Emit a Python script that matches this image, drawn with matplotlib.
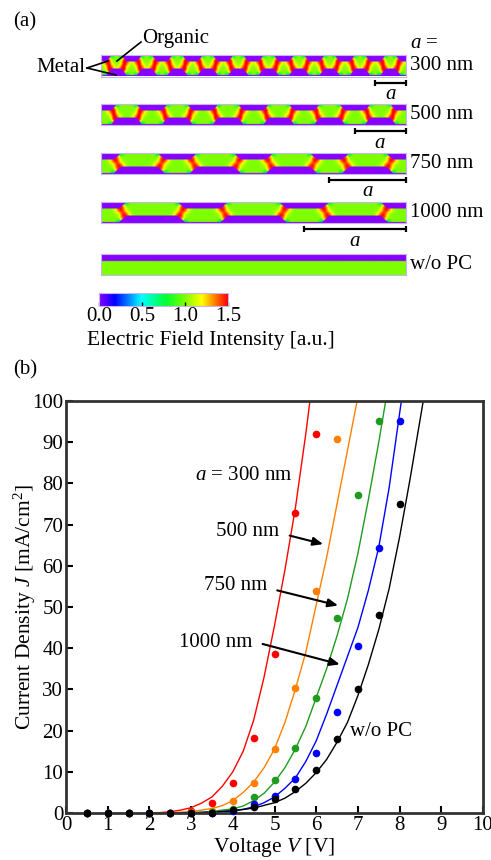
import numpy as np
import matplotlib
matplotlib.use("Agg")
import matplotlib.pyplot as plt
from matplotlib.colors import LinearSegmentedColormap

plt.rcParams['font.family'] = ['Liberation Serif', 'DejaVu Serif']
plt.rcParams['mathtext.fontset'] = 'custom'
plt.rcParams['mathtext.rm'] = 'Liberation Serif'
plt.rcParams['mathtext.it'] = 'Liberation Serif:italic'

W, H = 491, 860   # figure size in pixels
FS = 15

# ─── Datos panel (a) ──────────────────────────────────────────────────────────
periods = [300, 500, 750, 1000]
period_labels = ["300 nm", "500 nm", "750 nm", "1000 nm", "w/o PC"]
cbar_ticks = [0.0, 0.5, 1.0, 1.5]

# ─── Datos panel (b): puntos medidos ──────────────────────────────────────────
v_red = [0.5, 1.0, 1.5, 2.0, 2.5, 3.0, 3.5, 4.0, 4.5, 5.0, 5.5, 6.0]
j_red = [0, 0, 0, 0, 0, 0.5, 2.5, 7.2, 18.3, 38.5, 72.9, 92.0]

v_orange = [0.5, 1.0, 1.5, 2.0, 2.5, 3.0, 3.5, 4.0, 4.5, 5.0, 5.5, 6.0, 6.5]
j_orange = [0, 0, 0, 0, 0, 0.2, 0.5, 3.0, 7.2, 15.5, 30.3, 54.0, 90.8]

v_green = [0.5, 1.0, 1.5, 2.0, 2.5, 3.0, 3.5, 4.0, 4.5, 5.0, 5.5, 6.0, 6.5, 7.0, 7.5]
j_green = [0, 0, 0, 0, 0, 0, 0.3, 1.0, 3.8, 8.0, 15.7, 27.8, 47.3, 77.2, 95.2]

v_blue = [0.5, 1.0, 1.5, 2.0, 2.5, 3.0, 3.5, 4.0, 4.5, 5.0, 5.5, 6.0, 6.5, 7.0, 7.5, 8.0]
j_blue = [0, 0, 0, 0, 0, 0, 0.1, 0.5, 2.2, 4.1, 8.2, 14.6, 24.6, 40.6, 64.2, 95.2]

v_black = [0.5, 1.0, 1.5, 2.0, 2.5, 3.0, 3.5, 4.0, 4.5, 5.0, 5.5, 6.0, 6.5, 7.0, 7.5, 8.0]
j_black = [0, 0, 0, 0, 0, 0, 0.1, 0.8, 1.5, 3.5, 5.8, 10.4, 17.9, 30.0, 48.0, 75.0]

# ─── Datos panel (b): curvas de ajuste ───────────────────────────────────────
cv_red = [2.0, 2.25, 2.5, 2.75, 3.0, 3.25, 3.5, 3.75, 4.0, 4.25, 4.5, 4.75, 5.0, 5.25, 5.5, 5.75, 5.875]
cj_red = [0, 0.1, 0.3, 0.7, 1.3, 2.4, 3.9, 6.5, 10.0, 15.0, 22.5, 33.0, 45.5, 59.0, 74.0, 92.0, 102.0]

cv_orange = [2.25, 2.5, 2.75, 3.0, 3.25, 3.5, 3.75, 4.0, 4.25, 4.5, 4.75, 5.0, 5.25, 5.5, 5.75, 6.0, 6.25, 6.5, 6.75, 7.0]
cj_orange = [0, 0.1, 0.2, 0.4, 0.7, 1.1, 1.8, 3.0, 5.0, 7.5, 11.0, 15.5, 22.0, 30.0, 39.0, 50.5, 62.0, 75.0, 88.0, 101.0]

cv_green = [2.5, 2.75, 3.0, 3.25, 3.5, 3.75, 4.0, 4.25, 4.5, 4.75, 5.0, 5.25, 5.5, 5.75, 6.0, 6.25, 6.5, 6.75, 7.0, 7.25, 7.5, 7.7]
cj_green = [0, 0.05, 0.1, 0.2, 0.4, 0.7, 1.0, 1.7, 3.0, 4.8, 7.5, 11.0, 15.5, 21.0, 28.0, 35.0, 43.0, 52.0, 63.0, 76.0, 90.0, 102.0]

cv_blue = [2.75, 3.0, 3.5, 4.0, 4.25, 4.5, 4.75, 5.0, 5.25, 5.5, 5.75, 6.0, 6.25, 6.5, 6.75, 7.0, 7.25, 7.5, 7.75, 8.0, 8.1]
cj_blue = [0, 0.05, 0.2, 0.6, 0.9, 1.5, 2.5, 3.9, 6.0, 8.5, 12.5, 17.5, 24.0, 31.0, 38.0, 45.0, 54.0, 64.5, 79.0, 97.0, 104.0]

cv_black = [3.0, 3.5, 4.0, 4.5, 5.0, 5.25, 5.5, 5.75, 6.0, 6.25, 6.5, 6.75, 7.0, 7.25, 7.5, 7.75, 8.0, 8.25, 8.5, 8.6]
cj_black = [0, 0.2, 0.5, 1.2, 2.5, 3.6, 5.2, 7.2, 9.8, 13.0, 17.2, 22.0, 28.5, 36.0, 44.5, 54.5, 67.0, 81.0, 96.0, 102.0]

series = [
    (v_red, j_red, cv_red, cj_red, "#ff0000"),
    (v_orange, j_orange, cv_orange, cj_orange, "#ff8000"),
    (v_green, j_green, cv_green, cj_green, "#1f9c1f"),
    (v_blue, j_blue, cv_blue, cj_blue, "#0000ff"),
    (v_black, j_black, cv_black, cj_black, "#000000"),
]

field_cmap = LinearSegmentedColormap.from_list("field", [
    (0.00, "#8800ff"), (0.12, "#0000ff"), (0.33, "#00ffff"),
    (0.52, "#00ff30"), (0.67, "#80ff00"), (0.80, "#ffff00"),
    (0.90, "#ff8000"), (1.00, "#ff0000")])


def fig_box(x0, y0, x1, y1):
    """Convierte una caja en píxeles (origen arriba-izq.) a fracción de figura."""
    return [x0 / W, 1 - y1 / H, (x1 - x0) / W, (y1 - y0) / H]


def field_map(period, lx=3000.0, ly=215.0):
    """Mapa esquemático de intensidad de campo en la capa orgánica corrugada."""
    x = np.linspace(0, lx, 601)
    y = np.linspace(0, ly, 44)
    X, Y = np.meshgrid(x, y)
    if period is None:
        return np.where(Y <= 0.63 * ly, 1.0, 0.0)
    dc = np.abs(np.mod(X, period) - period / 2)
    small = period < 600
    hu = (0.5 if small else 0.58) * period / 2
    w = 50.0 if small else 70.0
    u = np.clip((hu + w / 2 - dc) / w, 0, 1)
    yb = (0.03 + 0.30 * u) * ly
    yt = (0.66 + 0.28 * u) * ly
    organic = (Y >= yb) & (Y <= yt)

    def g(d0, y0, s):
        return np.exp(-((dc - d0) ** 2 + (Y - y0) ** 2) / (2 * s ** 2))

    F = np.ones_like(X)
    F += 0.36 * g(hu + w / 2, 0.66 * ly, 32) + 0.36 * g(hu - w / 2, 0.33 * ly, 32)
    F += 0.22 * np.exp(-((dc - hu) / (w / 2)) ** 2)
    F -= 0.45 * g(hu - w / 2, 0.94 * ly, 18) + 0.45 * g(hu + w / 2, 0.03 * ly, 18)
    F = np.clip(F, 0.4, 1.5)
    F[~organic] = 0.0
    return F


fig = plt.figure(figsize=(W / 100, H / 100), dpi=100)

# ─── Panel (a) ────────────────────────────────────────────────────────────────
strip_x0, strip_x1, strip_h = 100.7, 405.7, 21.5
strip_tops = [55, 103.5, 152.5, 201.5, 253.5]

for top, p, lab in zip(strip_tops, periods + [None], period_labels):
    ax = fig.add_axes(fig_box(strip_x0, top, strip_x1, top + strip_h))
    ax.imshow(field_map(p), extent=[0, 3000, 0, 215], origin="lower",
              aspect="auto", cmap=field_cmap, vmin=0, vmax=1.5,
              interpolation="bilinear")
    ax.set_xticks([])
    ax.set_yticks([])
    for s in ax.spines.values():
        s.set_color("#c8b4f4")
        s.set_linewidth(0.8)
    ax.set_xlim(0, 3000)
    ax.set_ylim(0, 215)
    fig.text(410 / W, 1 - (top + 11) / H, lab, fontsize=FS, va="center")
    if p is not None:
        ax.plot([3000 - p, 3000], [-60, -60], color="black", lw=1.6,
                clip_on=False, solid_capstyle="butt")
        ax.plot([3000 - p, 3000], [-60, -60], ls="none", marker="|",
                ms=5, mew=1.6, color="black", clip_on=False)
        ax.text(3000 - p / 2, -85, "$a$", fontsize=FS, ha="center",
                va="top", clip_on=False)

fig.text(410 / W, 1 - 43 / H, "$a$ =", fontsize=FS, va="center")
fig.text(13 / W, 1 - 22 / H, "(a)", fontsize=FS, va="center")

ov = fig.add_axes([0, 0, 1, 1], facecolor="none")
ov.set_xlim(0, W)
ov.set_ylim(H, 0)
ov.axis("off")
ov.text(142, 39, "Organic", fontsize=FS, va="center")
ov.plot([141, 117], [42, 61], color="black", lw=1.2)
ov.text(36, 68, "Metal", fontsize=FS, va="center")
ov.plot([87, 108], [68, 61], color="black", lw=1.2)
ov.plot([87, 116], [68, 75], color="black", lw=1.2)

# barra de color
cax = fig.add_axes(fig_box(99, 293, 228, 306))
sm = plt.cm.ScalarMappable(cmap=field_cmap, norm=plt.Normalize(0, 1.5))
cb = fig.colorbar(sm, cax=cax, orientation="horizontal", ticks=cbar_ticks)
cb.outline.set_edgecolor("#c8b4f4")
cb.ax.tick_params(direction="in", length=3, width=1, labelsize=FS, pad=1)
cb.ax.set_xticklabels([f"{t:.1f}" for t in cbar_ticks])
ov.text(87, 340, "Electric Field Intensity [a.u.]", fontsize=FS + 0.5, va="center")

# ─── Panel (b) ────────────────────────────────────────────────────────────────
axb = fig.add_axes(fig_box(66, 401, 483, 813))
for v, j, cv, cj, col in series:
    axb.plot(cv, cj, color=col, lw=1.0, zorder=2)
for v, j, cv, cj, col in series:
    axb.plot(v, j, "o", color=col, ms=5.5, mew=0, zorder=3, clip_on=False)

axb.set_xlim(0, 10)
axb.set_ylim(0, 100)
axb.set_xticks(range(0, 11))
axb.set_yticks(range(0, 101, 10))
axb.tick_params(direction="in", length=5, width=1.5, labelsize=FS, pad=2,
                top=False, right=False)
for s in axb.spines.values():
    s.set_linewidth(2)
    s.set_color("#333333")
axb.set_xlabel("Voltage $V$ [V]", fontsize=FS + 0.5, labelpad=1)
axb.set_ylabel("Current Density $J$ [mA/cm$^2$]", fontsize=FS + 0.5)
axb.yaxis.set_label_coords(-0.066, 0.5)

axb.text(3.1, 82, "$a$ = 300 nm", fontsize=FS, va="center")
axb.text(3.6, 68.3, "500 nm", fontsize=FS, va="center")
axb.text(3.3, 55.3, "750 nm", fontsize=FS, va="center")
axb.text(2.7, 41.3, "1000 nm", fontsize=FS, va="center")
axb.text(6.8, 19.9, "w/o PC", fontsize=FS, va="center")
arrow = dict(arrowstyle="-|>,head_length=0.6,head_width=0.25", color="black", lw=1.5)
axb.annotate("", xy=(6.23, 65.1), xytext=(5.3, 67.5), arrowprops=arrow)
axb.annotate("", xy=(6.59, 50.2), xytext=(5.0, 54.2), arrowprops=arrow)
axb.annotate("", xy=(6.63, 35.9), xytext=(4.65, 41.2), arrowprops=arrow)

fig.text(13 / W, 1 - 370 / H, "(b)", fontsize=FS, va="center")

fig.savefig("out.png", dpi=100)
